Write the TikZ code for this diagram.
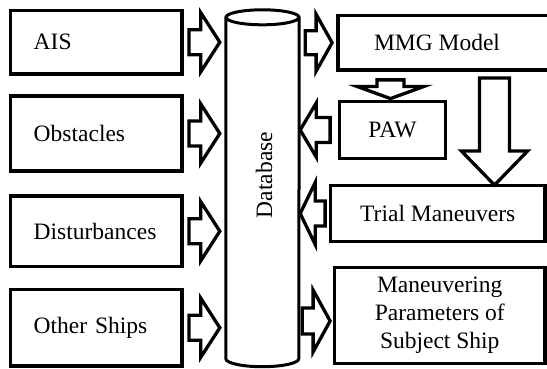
\documentclass[tikz,border=0pt]{standalone}
\usepackage{fontspec}
\setmainfont{Liberation Serif}
\usetikzlibrary{calc}

\tikzset{
  txt/.style={font=\fontsize{23.5}{28}\selectfont},
  srcbox/.style={txt, draw, line width=3.8pt, minimum width=171.5pt,
    text width=125pt, align=left, inner xsep=23pt, inner ysep=0pt},
  outbox/.style={txt, draw, line width=3.8pt, inner sep=0pt, align=center},
  blockarr/.style={draw, line width=3.3pt, fill=white, line join=miter},
  dbline/.style={line width=3pt}
}

% Hollow block arrow from #1 to tip #2:
% #3 shaft half width, #4 head half width, #5 head length
\newcommand\barrow[5]{%
  \coordinate (hb) at ($(#2)!#5!(#1)$);
  \draw[blockarr]
    ($(#1)!#3!90:(#2)$) -- ($(hb)!#3!-90:(#1)$) -- ($(hb)!#4!-90:(#1)$)
    -- (#2)
    -- ($(hb)!#4!90:(#1)$) -- ($(hb)!#3!90:(#1)$) -- ($(#1)!#3!-90:(#2)$)
    -- cycle;
}

\begin{document}
\begin{tikzpicture}[x=1pt,y=-1pt]
\useasboundingbox[fill=white] (0,0) rectangle (547,369);

% input sources
\node[srcbox, minimum height=63.5pt] (ais)   at (96.25,42.25)  {AIS};
\node[srcbox, minimum height=75pt]   (obs)   at (96.25,133.5)  {Obstacles};
\node[srcbox, minimum height=70.5pt] (dist)  at (96.25,231.25) {Disturbances};
\node[srcbox, minimum height=76.5pt] (other) at (96.25,327.75) {Other Ships};

% database cylinder
\node[minimum width=73pt, minimum height=341pt, inner sep=0pt] (db) at (262.5,188) {};
\draw[dbline] (db.north west) -- (db.south west)
  arc[start angle=180, end angle=360, x radius=36.5pt, y radius=8pt]
  -- (db.north east);
\draw[dbline, fill=white] (db.north) ellipse [x radius=36.5pt, y radius=7.5pt];
\node[txt, rotate=90] (dbl) at (264,175) {Database};

% processing and outputs
\node[outbox, minimum width=214pt, minimum height=54.5pt] (mmg) at (445,42.75) {MMG Model\hspace*{16pt}};
\node[outbox, minimum width=106pt, minimum height=57pt] (paw) at (392.5,130) {PAW};
\node[outbox, minimum width=214.5pt, minimum height=56pt] (trial) at (437.75,213.5) {Trial Maneuvers};
\node[outbox, minimum width=210.5pt, minimum height=96pt] (man) at (439.75,315.5)
  {Maneuvering\\Parameters of\\Subject Ship};

% sources into the database
\foreach \s in {ais,obs,dist,other}{
  \coordinate (\s-a) at ($(\s.east)+(5,0)$);
  \coordinate (\s-b) at ($(db.west|-\s.east)+(-6,0)$);
  \barrow{\s-a}{\s-b}{12.5pt}{29.5pt}{19pt}
}

% database to MMG model
\coordinate (m-a) at ($(db.east|-mmg.west)+(6,0)$);
\coordinate (m-b) at ($(mmg.west)+(-4,0)$);
\barrow{m-a}{m-b}{12pt}{28.5pt}{16pt}

% MMG model to PAW
\coordinate (p-a) at ($(paw.north|-mmg.south)+(-2,8)$);
\coordinate (p-b) at ($(paw.north)+(-2,-1)$);
\barrow{p-a}{p-b}{13.5pt}{33pt}{12pt}

% PAW back to the database
\coordinate (q-a) at ($(paw.west)+(-7.5,0)$);
\coordinate (q-b) at ($(db.east|-paw.west)+(1,0)$);
\barrow{q-a}{q-b}{12.5pt}{27pt}{16pt}

% MMG model to trial maneuvers
\coordinate (t-a) at (494.5,78);
\coordinate (t-b) at ($(t-a|-trial.north)+(0,1.5)$);
\barrow{t-a}{t-b}{15pt}{33pt}{34pt}

% trial maneuvers back to the database
\coordinate (r-a) at ($(trial.west)+(-3.5,0)$);
\coordinate (r-b) at ($(db.east|-trial.west)+(1,0)$);
\barrow{r-a}{r-b}{12.5pt}{31pt}{15pt}

% database to maneuvering parameters
\coordinate (s-b) at ($(man.west)+(-2.5,5.5)$);
\coordinate (s-a) at ($(db.east|-s-b)+(3,0)$);
\barrow{s-a}{s-b}{13pt}{31pt}{17pt}
\end{tikzpicture}
\end{document}
